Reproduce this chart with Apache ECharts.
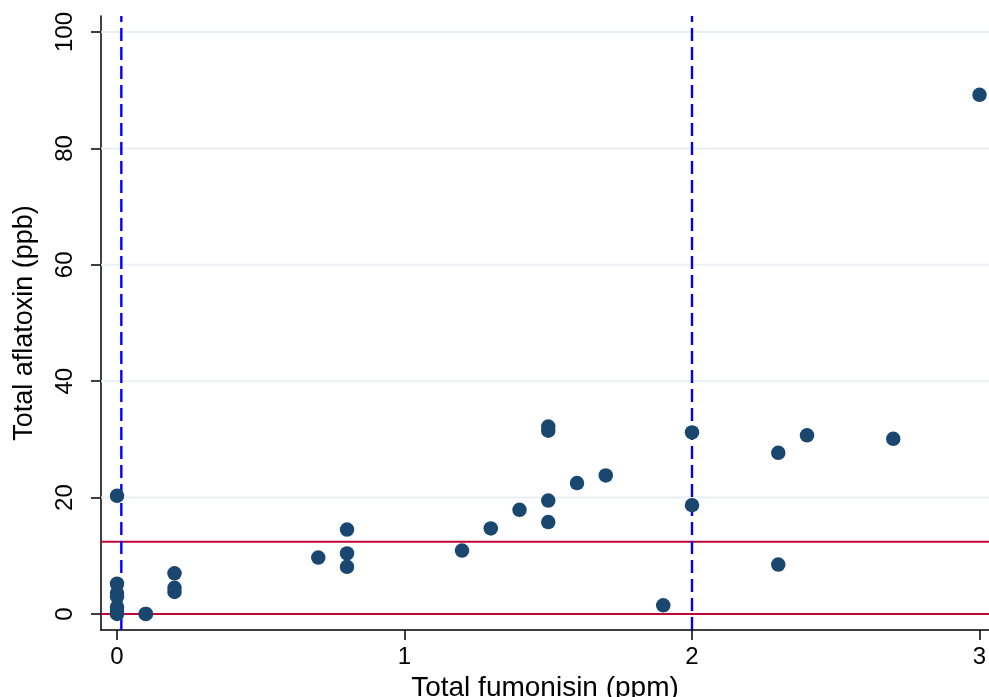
<!DOCTYPE html>
<html>
<head>
<meta charset="utf-8">
<script src="https://cdn.jsdelivr.net/npm/echarts@6/dist/echarts.min.js"></script>
<style>
html,body{margin:0;padding:0;background:#fff;}
#chart{width:989px;height:697px;}
</style>
</head>
<body>
<div id="chart"></div>
<script>
// Data
const fumonisin = [0,0,0,0,0,0,0, 0.1,0.1, 0.2,0.2,0.2, 0.7, 0.8,0.8,0.8, 1.2, 1.3, 1.4, 1.5,1.5,1.5,1.5, 1.6, 1.7, 1.9, 2.0,2.0, 2.3,2.3, 2.4, 2.7, 3.0];
const aflatoxin = [20.3,5.2,3.6,3.0,1.2,0.5,0, 0,0, 7.0,4.5,3.8, 9.7, 14.5,10.4,8.1, 10.9, 14.7, 17.9, 32.2,31.5,19.5,15.8, 22.5, 23.8, 1.5, 31.2,18.7, 27.7,8.5, 30.7, 30.1, 89.2];
const xTicks = [0,1,2,3];
const yTicks = [0,20,40,60,80,100];
const hLines = [0, 12.4];     // horizontal reference lines
const vLines = [0.015, 2.0];  // vertical dashed reference lines

const X_MIN = -0.0557, X_MAX = 3.033, Y_MIN = -2.75, Y_MAX = 102.75;
const font = 'Arial, "Liberation Sans", sans-serif';
const points = fumonisin.map((x,i)=>[x, aflatoxin[i]]);

function refLine(data, color, width, type, z){
  return {type:'line', data:data, z:z, silent:true, symbol:'none', showSymbol:false,
    clip:true, lineStyle:{color:color, width:width, type:type}, animation:false};
}

const series = [];
yTicks.forEach(v=>series.push(refLine([[X_MIN,v],[X_MAX,v]], '#eaf0f4', 2, 'solid', 1)));
hLines.forEach(v=>series.push(refLine([[X_MIN,v],[X_MAX,v]], '#c10534', 2, 'solid', 2)));
vLines.forEach(v=>series.push(refLine([[v,Y_MIN],[v,Y_MAX]], '#0000ff', 2.4, [13,6], 2)));
series.push({type:'scatter', z:10, data:points, symbol:'circle', symbolSize:14.5,
  itemStyle:{color:'#1a476f', opacity:1}});

const chart = echarts.init(document.getElementById('chart'), null, {renderer:'canvas'});
chart.setOption({
  animation:false,
  backgroundColor:'#ffffff',
  grid:{left:101, right:0, top:16, bottom:67, containLabel:false, outerBoundsMode:'none'},
  xAxis:{
    type:'value', min:X_MIN, max:X_MAX,
    name:'Total fumonisin (ppm)', nameLocation:'middle', nameGap:38,
    nameTextStyle:{fontFamily:font, fontSize:28, color:'#000'},
    axisLine:{show:true, onZero:false, lineStyle:{color:'#000', width:1.5}},
    axisTick:{show:true, customValues:xTicks, length:10, lineStyle:{color:'#000', width:1.5}},
    axisLabel:{customValues:xTicks, fontFamily:font, fontSize:24, color:'#000', margin:15},
    splitLine:{show:false}
  },
  yAxis:{
    type:'value', min:Y_MIN, max:Y_MAX,
    name:'Total aflatoxin (ppb)', nameLocation:'middle', nameGap:63,
    nameTextStyle:{fontFamily:font, fontSize:27, color:'#000'},
    axisLine:{show:true, onZero:false, lineStyle:{color:'#000', width:1.5}},
    axisTick:{show:true, customValues:yTicks, length:10, lineStyle:{color:'#000', width:1.5}},
    axisLabel:{customValues:yTicks, rotate:90, fontFamily:font, fontSize:24, color:'#000', margin:24, align:'center'},
    splitLine:{show:false}
  },
  series: series
});
</script>
</body>
</html>
